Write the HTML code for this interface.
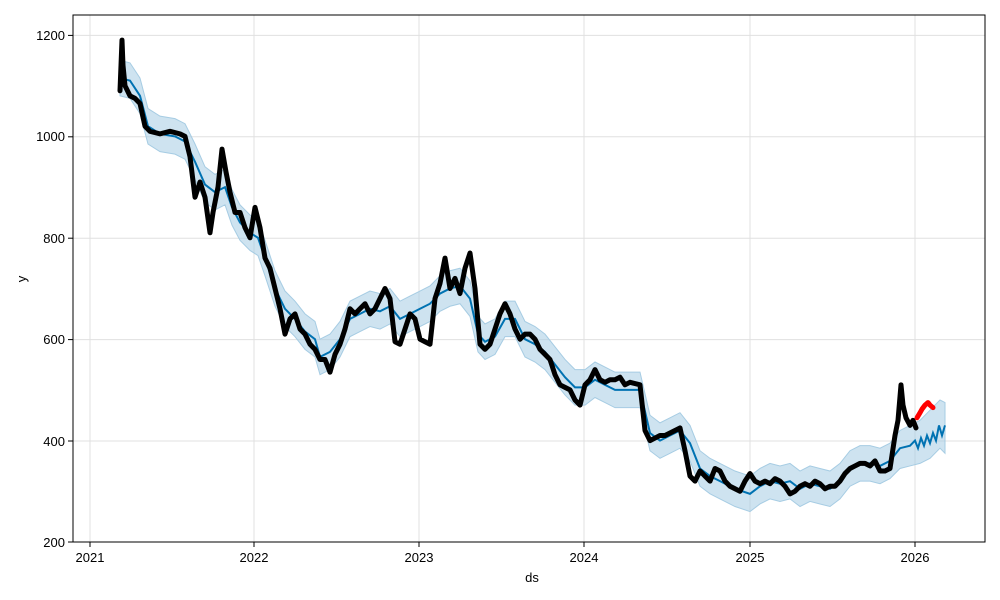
<!DOCTYPE html>
<html><head><meta charset="utf-8"><style>
body{margin:0;background:#fff;}
svg{display:block;font-family:"Liberation Sans",sans-serif;}
</style></head><body>
<svg width="1000" height="600" viewBox="0 0 1000 600">
<rect width="1000" height="600" fill="#fff"/>
<g stroke="#e0e0e0" stroke-width="1">
<line x1="90" y1="15" x2="90" y2="542"/><line x1="254" y1="15" x2="254" y2="542"/><line x1="419" y1="15" x2="419" y2="542"/><line x1="584" y1="15" x2="584" y2="542"/><line x1="750" y1="15" x2="750" y2="542"/><line x1="915" y1="15" x2="915" y2="542"/>
<line x1="73" y1="35.4" x2="985" y2="35.4"/><line x1="73" y1="136.8" x2="985" y2="136.8"/><line x1="73" y1="238.2" x2="985" y2="238.2"/><line x1="73" y1="339.6" x2="985" y2="339.6"/><line x1="73" y1="441" x2="985" y2="441"/>
</g>
<g transform="translate(0,643.4) scale(1,-0.507)">
<polygon fill="#a6cce3" fill-opacity="0.55" stroke="#a6cce3" stroke-width="1" vector-effect="non-scaling-stroke" points="120,1150 130,1145 140,1115 148,1055 160,1040 175,1035 185,1025 195,985 205,940 215,925 225,935 232,895 240,865 250,845 258,835 265,795 275,735 285,695 295,675 305,650 315,635 320,600 330,610 340,635 350,675 360,685 370,695 380,690 390,700 400,675 410,685 420,695 430,705 440,725 450,735 460,740 470,715 478,645 485,630 495,640 505,675 515,675 525,635 535,625 545,610 555,585 565,560 575,540 585,540 595,555 605,545 615,535 625,535 640,535 650,450 660,435 670,445 680,455 690,430 700,380 710,365 720,355 735,340 750,330 760,345 770,355 780,350 790,355 800,340 810,350 820,345 830,340 840,355 850,380 860,390 870,390 880,385 890,395 900,420 910,430 920,440 930,460 940,480 945,475 945,375 940,385 930,365 920,355 910,350 900,345 890,325 880,315 870,320 860,320 850,310 840,285 830,270 820,275 810,280 800,270 790,285 780,280 770,285 760,275 750,260 735,270 720,285 710,295 700,310 690,360 680,385 670,375 660,365 650,380 640,465 625,465 615,465 605,475 595,485 585,470 575,470 565,490 555,515 545,540 535,555 525,565 515,605 505,605 495,570 485,560 478,575 470,645 460,670 450,665 440,655 430,635 420,625 410,615 400,605 390,630 380,620 370,625 360,615 350,605 340,565 330,540 320,530 315,565 305,580 295,605 285,625 275,665 265,725 258,765 250,775 240,795 232,825 225,865 215,855 205,870 195,915 185,955 175,965 160,970 148,985 140,1045 130,1075 120,1080"/>
<polyline fill="none" stroke="#0072b2" stroke-width="2" vector-effect="non-scaling-stroke" points="120,1115 130,1110 140,1080 148,1020 160,1005 175,1000 185,990 195,950 205,905 215,890 225,900 232,860 240,830 250,810 258,800 265,760 275,700 285,660 295,640 305,615 315,600 320,565 330,575 340,600 350,640 360,650 370,660 380,655 390,665 400,640 410,650 420,660 430,670 440,690 450,700 460,705 470,680 478,610 485,595 495,605 505,640 515,640 525,600 535,590 545,575 555,550 565,525 575,505 585,505 595,520 605,510 615,500 625,500 640,500 650,415 660,400 670,410 680,420 690,395 700,345 710,330 720,320 735,305 750,295 760,310 770,320 780,315 790,320 800,305 810,315 820,310 830,305 840,320 850,345 860,355 870,355 880,350 890,360 900,385 910,390 915,400 918,385 921,405 924,390 927,410 930,395 933,415 936,400 939,430 942,410 945,430"/>
<polyline fill="none" stroke="#000" stroke-width="5" stroke-linecap="round" stroke-linejoin="round" vector-effect="non-scaling-stroke" points="120,1090 122,1190 123,1140 125,1100 130,1080 135,1075 140,1065 145,1020 150,1010 160,1005 170,1010 180,1005 185,1000 190,960 195,880 200,910 205,880 210,810 213,850 218,900 222,975 226,930 230,890 235,850 240,850 245,820 250,800 255,860 260,820 265,760 270,740 275,700 280,660 285,610 290,640 295,650 300,620 305,610 310,590 315,580 320,560 325,560 330,535 335,570 340,590 345,620 350,660 355,650 360,660 365,670 370,650 375,660 380,680 385,700 390,680 395,595 400,590 405,620 410,650 415,640 420,600 425,595 430,590 435,680 440,710 445,760 450,700 455,720 460,690 465,740 470,770 475,700 480,590 485,580 490,590 495,620 500,650 505,670 510,650 515,620 520,600 525,610 530,610 535,600 540,580 545,570 550,560 555,530 560,510 565,505 570,500 575,480 580,470 585,510 590,520 595,540 600,520 605,515 610,520 615,520 620,525 625,510 630,515 640,510 645,420 650,400 655,405 660,410 665,410 670,415 675,420 680,425 685,380 690,330 695,320 700,340 705,330 710,320 715,345 720,340 725,320 730,310 735,305 740,300 745,320 750,335 755,320 760,315 765,320 770,315 775,325 780,320 785,310 790,295 795,300 800,310 805,315 810,310 815,320 820,315 825,305 830,310 835,310 840,320 845,335 850,345 855,350 860,355 865,355 870,350 875,360 880,340 885,340 890,345 895,410 898,440 901,510 903,470 906,445 910,430 913,440 916,425"/>
<polyline fill="none" stroke="#ff0000" stroke-width="5" stroke-linecap="round" stroke-linejoin="round" vector-effect="non-scaling-stroke" points="917,445 920,455 922,462 925,470 928,475 930,470 933,465"/>
</g>
<rect x="73" y="15" width="912" height="527" fill="none" stroke="#000" stroke-width="1"/>
<g stroke="#000"><line x1="90" y1="542" x2="90" y2="547"/><line x1="254" y1="542" x2="254" y2="547"/><line x1="419" y1="542" x2="419" y2="547"/><line x1="584" y1="542" x2="584" y2="547"/><line x1="750" y1="542" x2="750" y2="547"/><line x1="915" y1="542" x2="915" y2="547"/>
<line x1="68" y1="35.4" x2="73" y2="35.4"/><line x1="68" y1="136.8" x2="73" y2="136.8"/><line x1="68" y1="238.2" x2="73" y2="238.2"/><line x1="68" y1="339.6" x2="73" y2="339.6"/><line x1="68" y1="441" x2="73" y2="441"/><line x1="68" y1="542" x2="73" y2="542"/></g>
<g font-size="13" fill="#000" text-anchor="middle"><text x="90" y="562">2021</text><text x="254" y="562">2022</text><text x="419" y="562">2023</text><text x="584" y="562">2024</text><text x="750" y="562">2025</text><text x="915" y="562">2026</text><text x="532" y="582">ds</text></g>
<g font-size="13" fill="#000" text-anchor="end"><text x="65" y="40">1200</text><text x="65" y="141">1000</text><text x="65" y="243">800</text><text x="65" y="344">600</text><text x="65" y="446">400</text><text x="65" y="547">200</text></g>
<text x="26" y="279" font-size="13" text-anchor="middle" transform="rotate(-90 26 279)">y</text>
</svg>
</body></html>
